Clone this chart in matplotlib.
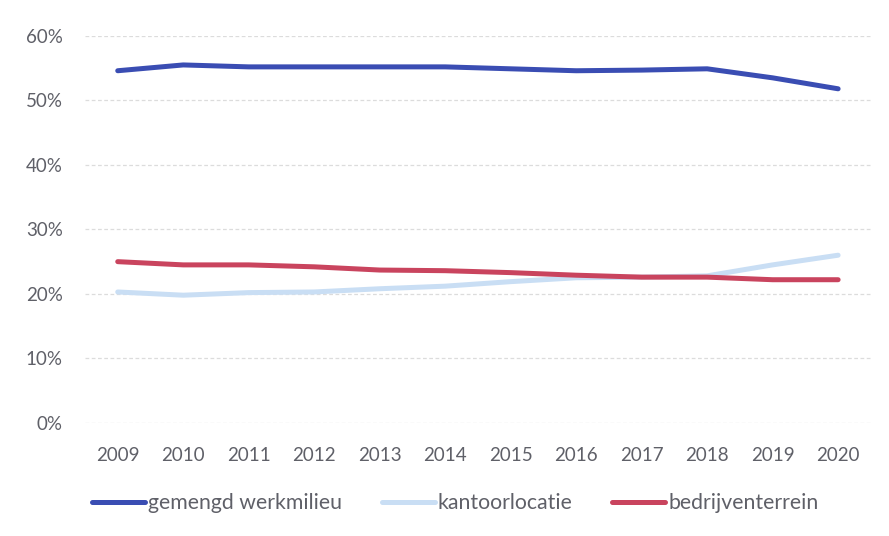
import matplotlib
matplotlib.use("Agg")
import matplotlib.pyplot as plt
from matplotlib.ticker import FuncFormatter

years = ["2009", "2010", "2011", "2012", "2013", "2014", "2015", "2016", "2017", "2018", "2019", "2020"]
gemengd = [54.6, 55.5, 55.2, 55.2, 55.2, 55.2, 54.9, 54.6, 54.7, 54.9, 53.5, 51.8]
kantoor = [20.3, 19.8, 20.2, 20.3, 20.8, 21.2, 21.9, 22.5, 22.6, 22.8, 24.5, 26.0]
bedrijf = [25.0, 24.5, 24.5, 24.2, 23.7, 23.6, 23.3, 22.9, 22.6, 22.6, 22.2, 22.2]

plt.rcParams['font.family'] = ['Lato', 'DejaVu Sans']
txt = '#5f6068'

fig = plt.figure(figsize=(8.89, 5.36), dpi=100)
ax = fig.add_axes([0.0956, 0.211, 0.884, 0.722])
x = list(range(len(years)))
ax.plot(x, gemengd, color='#3a4db3', lw=3.6, solid_capstyle='round', label='gemengd werkmilieu')
ax.plot(x, kantoor, color='#c9def4', lw=3.6, solid_capstyle='round', label='kantoorlocatie')
ax.plot(x, bedrijf, color='#c9445e', lw=3.6, solid_capstyle='round', label='bedrijventerrein')

ax.set_xlim(-0.5, len(years) - 0.5)
ax.set_ylim(0, 60)
ax.set_yticks([0, 10, 20, 30, 40, 50, 60])
ax.yaxis.set_major_formatter(FuncFormatter(lambda v, p: f"{int(v)}%"))
ax.set_xticks(x)
ax.set_xticklabels(years)
ax.tick_params(length=0, labelsize=13.5, colors=txt)
ax.tick_params(axis='x', pad=17)
ax.tick_params(axis='y', pad=16)
for s in ax.spines.values():
    s.set_visible(False)
ax.grid(axis='y', color='#dcdcdc', lw=0.9, ls=(0, (3, 2)))
ax.set_axisbelow(True)

leg = fig.legend(loc='center left', bbox_to_anchor=(92 / 889, 1 - 503 / 536), ncol=3, frameon=False,
                 fontsize=15.3, handlelength=2.5, handletextpad=0.15, columnspacing=1.85,
                 borderpad=0, borderaxespad=0)
for t in leg.get_texts():
    t.set_color(txt)

fig.savefig('out.png', dpi=100)
